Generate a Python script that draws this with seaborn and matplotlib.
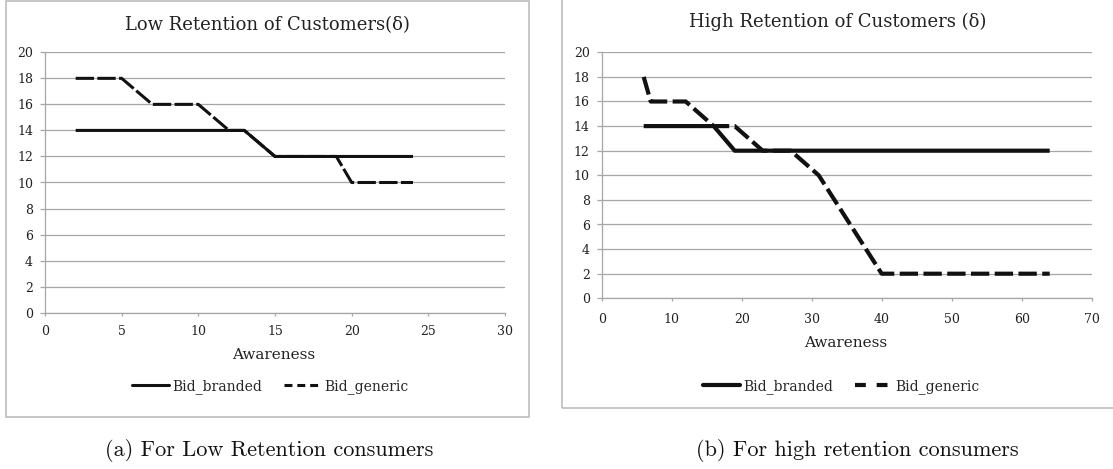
import matplotlib
matplotlib.use("Agg")
import matplotlib.pyplot as plt
import numpy as np
import pandas as pd
import seaborn as sns
from matplotlib.lines import Line2D
from matplotlib.patches import Rectangle

# ---------------- data ----------------
series_labels = ["Bid_branded", "Bid_generic"]

low_branded_x = [2, 13, 15, 24]
low_branded_y = [14, 14, 12, 12]
low_generic_x = [2, 5, 7, 10, 12, 13, 15, 19, 20, 24]
low_generic_y = [18, 18, 16, 16, 14, 14, 12, 12, 10, 10]

high_branded_x = [6, 16, 19, 64]
high_branded_y = [14, 14, 12, 12]
high_generic_x = [6, 7, 12, 16, 19, 23, 27, 31, 40, 64]
high_generic_y = [18, 16, 16, 14, 14, 12, 12, 10, 2, 2]

y_ticks = [0, 2, 4, 6, 8, 10, 12, 14, 16, 18, 20]
low_x_ticks = [0, 5, 10, 15, 20, 25, 30]
high_x_ticks = [0, 10, 20, 30, 40, 50, 60, 70]

titles = ["Low Retention of Customers(\u03b4)", "High Retention of Customers (\u03b4)"]
captions = ["(a) For Low Retention consumers", "(b) For high retention consumers"]
x_label = "Awareness"

# ---------------- style ----------------
sns.set_style("white")
plt.rcParams["font.family"] = ["DejaVu Serif"]

W, H = 1113, 469
fig = plt.figure(figsize=(W / 100, H / 100), dpi=100)


def fx(px):
    return px / W


def fy(py):
    return 1 - py / H


GRID = "#a6a6a6"
BOX = "#bdbdbd"
INK = "#111111"

# chart frames
fig.patches.append(Rectangle((fx(6), fy(417)), fx(529) - fx(6), fy(1) - fy(417),
                             transform=fig.transFigure, fill=False, ec=BOX, lw=1.2))
fig.patches.append(Rectangle((fx(562), fy(408)), fx(1125) - fx(562), fy(-5) - fy(408),
                             transform=fig.transFigure, fill=False, ec=BOX, lw=1.2))

panels = [
    dict(rect=(45, 52.3, 505, 312.7), xt=low_x_ticks,
         bx=low_branded_x, by=low_branded_y, gx=low_generic_x, gy=low_generic_y,
         lw_b=2.2, lw_g=2.2, dash=(6, 1.1), leg_dash=(2.6, 1.6), xpad=6,
         title=titles[0], tpos=(267, 25), xlpos=(274, 355), legpos=(270, 386.7),
         cap=captions[0], cpos=(269, 450)),
    dict(rect=(601.7, 52.3, 1091.7, 298.3), xt=high_x_ticks,
         bx=high_branded_x, by=high_branded_y, gx=high_generic_x, gy=high_generic_y,
         lw_b=3.0, lw_g=3.0, dash=(4.4, 1.3), leg_dash=(2.6, 2.6), xpad=8,
         title=titles[1], tpos=(838, 22), xlpos=(846, 343), legpos=(841, 386.7),
         cap=captions[1], cpos=(857, 450)),
]

for p in panels:
    l, t, r, b = p["rect"]
    ax = fig.add_axes([fx(l), fy(b), fx(r) - fx(l), fy(t) - fy(b)])
    gen = pd.DataFrame({"x": p["gx"], "y": p["gy"]})
    bra = pd.DataFrame({"x": p["bx"], "y": p["by"]})
    sns.lineplot(data=gen, x="x", y="y", ax=ax, color=INK, lw=p["lw_g"],
                 dashes=False, legend=False, solid_capstyle="butt")
    ax.lines[-1].set_dashes(p["dash"])
    ax.lines[-1].set_dash_capstyle("butt")
    sns.lineplot(data=bra, x="x", y="y", ax=ax, color=INK, lw=p["lw_b"],
                 legend=False, solid_capstyle="butt")

    ax.set_xlim(p["xt"][0], p["xt"][-1])
    ax.set_ylim(0, 20)
    ax.set_xticks(p["xt"])
    ax.set_yticks(y_ticks)
    ax.set_xlabel("")
    ax.set_ylabel("")
    ax.grid(axis="y", color=GRID, lw=0.9)
    ax.grid(axis="x", visible=False)
    ax.set_axisbelow(True)
    for s in ["top", "right"]:
        ax.spines[s].set_visible(False)
    for s in ["left", "bottom"]:
        ax.spines[s].set_color(GRID)
        ax.spines[s].set_linewidth(0.9)
    ax.tick_params(axis="y", direction="out", length=3.6, width=0.9, color=GRID,
                   labelsize=9, pad=5, labelcolor="#222222", left=True)
    ax.tick_params(axis="x", direction="out", length=2.5, width=0.9, color=GRID,
                   labelsize=9, pad=p["xpad"], labelcolor="#222222", bottom=True)
    ax.set_facecolor("none")

    fig.text(fx(p["tpos"][0]), fy(p["tpos"][1]), p["title"], ha="center", va="center",
             fontsize=13, color="#222222")
    fig.text(fx(p["xlpos"][0]), fy(p["xlpos"][1]), x_label, ha="center", va="center",
             fontsize=11, color="#222222")

    handles = [Line2D([], [], color=INK, lw=p["lw_b"]),
               Line2D([], [], color=INK, lw=p["lw_g"], dashes=p["leg_dash"])]
    fig.legend(handles, series_labels, loc="center",
               bbox_to_anchor=(fx(p["legpos"][0]), fy(p["legpos"][1])),
               ncol=2, frameon=False, fontsize=10, handlelength=2.7,
               handletextpad=0.2, columnspacing=1.6, borderaxespad=0,
               borderpad=0)
    fig.text(fx(p["cpos"][0]), fy(p["cpos"][1]), p["cap"], ha="center", va="center",
             fontsize=16, family=["cmr10", "DejaVu Serif"], color="#111111")

fig.savefig("out.png", dpi=100, facecolor="white")
